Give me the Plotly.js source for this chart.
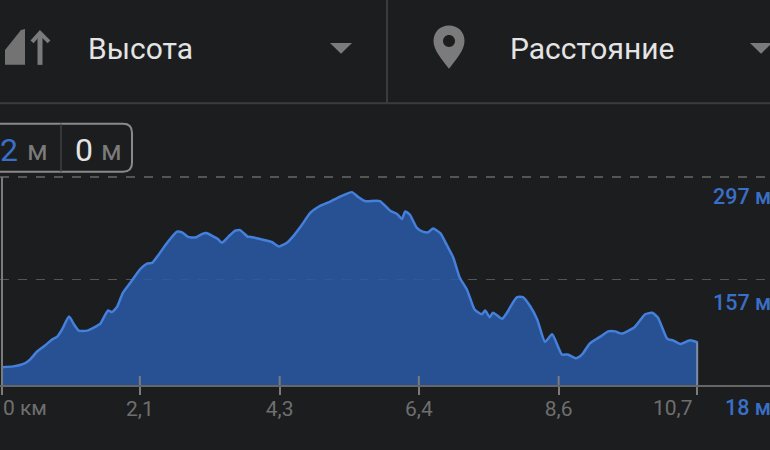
<!DOCTYPE html>
<html><head><meta charset="utf-8">
<script src="https://cdn.plot.ly/plotly-3.0.1.min.js"></script>
<style>html,body{margin:0;padding:0;background:#1c1d1f;overflow:hidden}</style>
</head><body><div id="chart" style="width:770px;height:450px"></div>
<script>
const distanceKm = [0,.17,.35,.43,.54,.66,.77,.85,.92,1.03,1.11,1.18,1.31,1.43,1.51,1.63,1.69,1.77,1.86,1.97,2.12,2.23,2.31,2.40,2.54,2.69,2.77,2.86,2.97,3.08,3.14,3.24,3.32,3.38,3.48,3.58,3.66,3.78,3.81,3.97,4.15,4.26,4.38,4.47,4.61,4.74,4.86,5.04,5.20,5.38,5.47,5.58,5.81,5.97,6.07,6.15,6.20,6.27,6.38,6.47,6.55,6.63,6.74,6.84,6.94,7.04,7.15,7.27,7.38,7.43,7.50,7.55,7.69,7.78,7.81,7.92,8.01,8.12,8.23,8.35,8.46,8.61,8.70,8.83,8.92,9.04,9.20,9.32,9.43,9.53,9.73,9.89,10.0,10.09,10.23,10.32,10.43,10.58,10.70];
const elevationM = [42,43,47,52,63,71,79,83,92,110,99,91,91,96,100,118,116,123,142,155,173,181,182,192,209,224,223,217,216,221,222,218,214,209,217,225,226,217,217,214,210,204,209,217,233,249,257,264,271,277,271,265,265,252,248,241,251,247,229,224,223,228,222,206,189,162,146,119,113,118,109,115,107,117,122,136,136,124,106,76,86,59,59,54,59,74,83,90,90,87,96,113,115,108,80,78,73,78,75];
const xTickVals = [0,2.12,4.27,6.41,8.56,10.69];
const xTickText = ['','2,1','4,3','6,4','8,6',''];
const yLevels = [297,159.5];
const yLabels = [['297 м',197],['157 м',303],['18 м',408]];

const W=770, PB=385.5, YSCALE=208/279, YTOP=300, PT=PB-(YTOP-18)*YSCALE;
const px=x=>x/W, py=y=>(PB-y)/(PB-PT);
const P=pts=>'M'+pts.map(p=>px(p[0])+','+py(p[1])).join('L');
const grey='#7b7b7b', blue='#3a6fc8', bg='#1c1d1f';
const font='Roboto, sans-serif';
const pshape=(path,fill,line,lw)=>({type:'path',xref:'paper',yref:'paper',path,fillcolor:fill||'rgba(0,0,0,0)',line:{color:line||'rgba(0,0,0,0)',width:lw||0},layer:'above'});
const seg=(a,b,c,w)=>pshape(P([a,b]),null,c,w);
const c=(cx,cy,r)=>{const k=r*0.552;return `M${px(cx-r)},${py(cy)}C${px(cx-r)},${py(cy-k)} ${px(cx-k)},${py(cy-r)} ${px(cx)},${py(cy-r)}C${px(cx+k)},${py(cy-r)} ${px(cx+r)},${py(cy-k)} ${px(cx+r)},${py(cy)}C${px(cx+r)},${py(cy+k)} ${px(cx+k)},${py(cy+r)} ${px(cx)},${py(cy+r)}C${px(cx-k)},${py(cy+r)} ${px(cx-r)},${py(cy+k)} ${px(cx-r)},${py(cy)}Z`;};
const pin=`M${px(449)},${py(69)}C${px(441)},${py(58)} ${px(433.5)},${py(50)} ${px(433.5)},${py(41)}C${px(433.5)},${py(32)} ${px(440)},${py(25.5)} ${px(449)},${py(25.5)}C${px(458)},${py(25.5)} ${px(464.5)},${py(32)} ${px(464.5)},${py(41)}C${px(464.5)},${py(50)} ${px(457)},${py(58)} ${px(449)},${py(69)}Z`;
const rr=(x0,y0,x1,y1,r)=>`M${px(x0)},${py(y0)}L${px(x1-r)},${py(y0)}Q${px(x1)},${py(y0)} ${px(x1)},${py(y0+r)}L${px(x1)},${py(y1-r)}Q${px(x1)},${py(y1)} ${px(x1-r)},${py(y1)}L${px(x0)},${py(y1)}`;

const shapes=[
 seg([0,103.5],[770,103.5],'#3b3c3e',2),
 seg([387,0],[387,103],'#3b3c3e',2),
 pshape(P([[5,65],[5,50],[21,30],[25,29],[25,65]])+'Z','#737373'),
 pshape(P([[40,65],[40,33]]),null,grey,5),
 pshape(P([[32,42],[40,33],[49,42]]),null,grey,4),
 pshape(P([[330,43],[352,43],[341,54]])+'Z',grey),
 pshape(P([[750,43],[772,43],[761,54]])+'Z',grey),
 pshape(pin,grey),
 pshape(c(449,41,6),bg),
 pshape(rr(-5,124,132,172,9),null,'#8a8a8a',2),
 seg([61,124],[61,172],'#3f4042',1.5)
];
xTickVals.slice(1,5).forEach(v=>shapes.push({type:'line',xref:'x',yref:'y',x0:v,x1:v,y0:18,y1:30,line:{color:grey,width:2},layer:'above'}));
shapes.push({type:'line',xref:'x',yref:'y',x0:10.69,x1:10.69,y0:18,y1:elevationM[elevationM.length-1],line:{color:'#7f8ea8',width:2},layer:'above'});
shapes.push({type:'line',xref:'x',yref:'y',x0:0,x1:0,y0:18,y1:297,line:{color:grey,width:2},layer:'above'});

const T=(text,x,y,size,color,anchor,weight)=>({text,xref:'paper',yref:'paper',x:px(x),y:py(y),xanchor:anchor||'left',yanchor:'middle',showarrow:false,font:{family:font,size,color,weight:weight||400}});
const annotations=[
 T('Высота',86,49,30,'#e4e4e4'),
 T('Расстояние',508,49,30,'#e4e4e4'),
 T('42',20,150,32,blue,'right'),
 T('м',25,151,28,grey),
 T('0',73,150,32,'#e4e4e4'),
 T('м',99,151,28,grey),
 T('0 км',0.5,409,21,'#6f6f6f'),
 T('10,7',695,409,21,'#6f6f6f','right')
];
yLabels.forEach(l=>annotations.push(T(l[0],773,l[1],21.5,blue,'right',500)));

Plotly.newPlot('chart',[{
 type:'scatter',mode:'lines',x:distanceKm,y:elevationM,fill:'tozeroy',
 fillcolor:'rgba(41,90,166,0.86)',line:{color:'#4580dc',width:2.5,shape:'spline',smoothing:0.5},hoverinfo:'skip'
}],{
 width:770,height:450,paper_bgcolor:bg,plot_bgcolor:bg,showlegend:false,
 margin:{l:0,r:0,t:PT,b:450-PB,pad:0},
 xaxis:{range:[-2/65.03,768/65.03],tickmode:'array',tickvals:xTickVals,ticktext:xTickText,ticks:'outside',ticklen:8,tickwidth:2,tickcolor:grey,ticklabelstandoff:-4,
  tickfont:{family:font,size:21,color:'#6f6f6f'},showgrid:false,zeroline:false,showline:true,linecolor:'#666',linewidth:2},
 yaxis:{range:[18,YTOP],tickmode:'array',tickvals:yLevels,showticklabels:false,ticks:'',showgrid:true,gridcolor:'#555',griddash:'dash',gridwidth:1.5,zeroline:false,showline:false},
 shapes,annotations
},{staticPlot:true,displayModeBar:false});
</script></body></html>
